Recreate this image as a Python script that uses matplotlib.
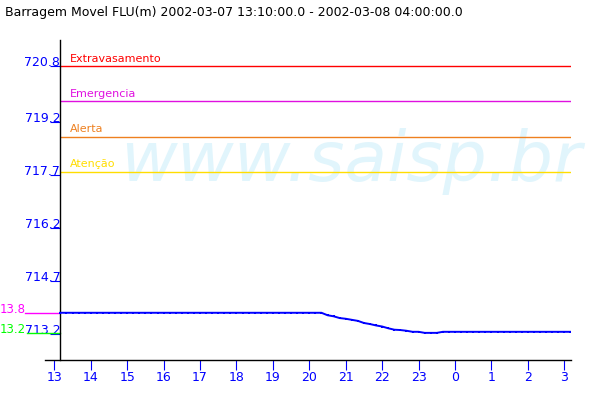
import numpy as np
import pandas as pd
import matplotlib
matplotlib.use('Agg')
import matplotlib.pyplot as plt
import matplotlib.transforms as mtransforms

# Reading every 10 minutes, 13:10 -> 03:10
level = [
    713.80, 713.80, 713.80, 713.80, 713.80,                  # 13:10 .. 13:50
    713.80, 713.80, 713.80, 713.80, 713.80, 713.80,          # 14h
    713.80, 713.80, 713.80, 713.80, 713.80, 713.80,          # 15h
    713.80, 713.80, 713.80, 713.80, 713.80, 713.80,          # 16h
    713.80, 713.80, 713.80, 713.80, 713.80, 713.80,          # 17h
    713.80, 713.80, 713.80, 713.80, 713.80, 713.80,          # 18h
    713.80, 713.80, 713.80, 713.80, 713.80, 713.80,          # 19h
    713.80, 713.80, 713.80, 713.73, 713.70, 713.65,          # 20h
    713.63, 713.60, 713.57, 713.51, 713.48, 713.44,          # 21h
    713.41, 713.36, 713.32, 713.31, 713.29, 713.26,          # 22h
    713.26, 713.23, 713.23, 713.23, 713.26, 713.26,          # 23h
    713.26, 713.26, 713.26, 713.26, 713.26, 713.26,          # 0h
    713.26, 713.26, 713.26, 713.26, 713.26, 713.26,          # 1h
    713.26, 713.26, 713.26, 713.26, 713.26, 713.26,          # 2h
    713.26, 713.26,                                          # 3:00, 3:10
]
times = pd.date_range('2002-03-07 13:10', periods=len(level), freq='10min')

threshold_names = ['Extravasamento', 'Emergencia', 'Alerta', 'Atenção']
threshold_values = [720.8, 719.8, 718.8, 717.8]
threshold_colors = ['#ff0000', '#e010e0', '#ee8020', '#ffdd00']

ytick_values = [713.2, 714.7, 716.2, 717.7, 719.2, 720.8]
xtick_labels = ['13', '14', '15', '16', '17', '18', '19', '20', '21', '22',
                '23', '0', '1', '2', '3']

title = 'Barragem Movel FLU(m) 2002-03-07 13:10:00.0 - 2002-03-08 04:00:00.0'

base = pd.Timestamp('2002-03-07 13:00')
hours = ((times - base) / pd.Timedelta(hours=1)).to_numpy()
t0 = hours[0]

blue = '#0000ff'
fig = plt.figure(figsize=(6, 4), dpi=100)
ax = fig.add_axes([45 / 600, 0.1, (570.7 - 45) / 600, 0.8])

# watermark
ax.text(120 / 600, 1 - 180.7 / 400, 'www.saisp.br', transform=fig.transFigure,
        fontsize=50, style='italic', color='#e1f5fc', va='baseline', zorder=0)

ax.set_xlim(-0.255, 14.175)
ax.set_ylim(712.46, 721.54)

for name, val, col in zip(threshold_names, threshold_values, threshold_colors):
    ax.hlines(val, t0, 14.175, color=col, lw=1.0, zorder=2)
    ax.annotate(name, xy=(t0, val), xytext=(7.2, 3.2), textcoords='offset points',
                color=col, fontsize=8, va='baseline', ha='left')

ax.plot(hours, level, color=blue, lw=1.4, marker='s', ms=2.0, mew=0, zorder=3)

# max / min markers left of the axis
trans = mtransforms.blended_transform_factory(fig.transFigure, ax.transData)
vmax, vmin = max(level), min(level)
for v, col, x0 in [(vmax, '#ff00ff', 25), (vmin, '#00ff00', 27)]:
    ax.plot([x0 / 600, 60 / 600], [v, v], color=col, lw=1.0, transform=trans, clip_on=False)
    ax.text(0, v, f'{v - 700:.1f}', color=col, fontsize=8.5, transform=trans,
            va='baseline', ha='left', clip_on=False)

ax.spines['top'].set_visible(False)
ax.spines['right'].set_visible(False)
ax.spines['left'].set_position(('data', t0))
ax.spines['left'].set_linewidth(1.0)
ax.spines['bottom'].set_linewidth(1.0)

ax.set_xticks(range(len(xtick_labels)))
ax.set_xticklabels(xtick_labels)
ax.set_yticks(ytick_values)
ax.set_yticklabels([f'{v:.1f}' for v in ytick_values])
ax.tick_params(axis='x', colors=blue, length=7.2, width=0.8, pad=1, labelsize=9)
ax.tick_params(axis='y', colors=blue, length=7.2, width=0.8, pad=-7.2, labelsize=9)
for lab in ax.get_yticklabels():
    lab.set_va('baseline')

fig.text(5 / 600, 1 - 16 / 400, title, fontsize=9, va='baseline', ha='left')

fig.savefig('out.png', dpi=100)
